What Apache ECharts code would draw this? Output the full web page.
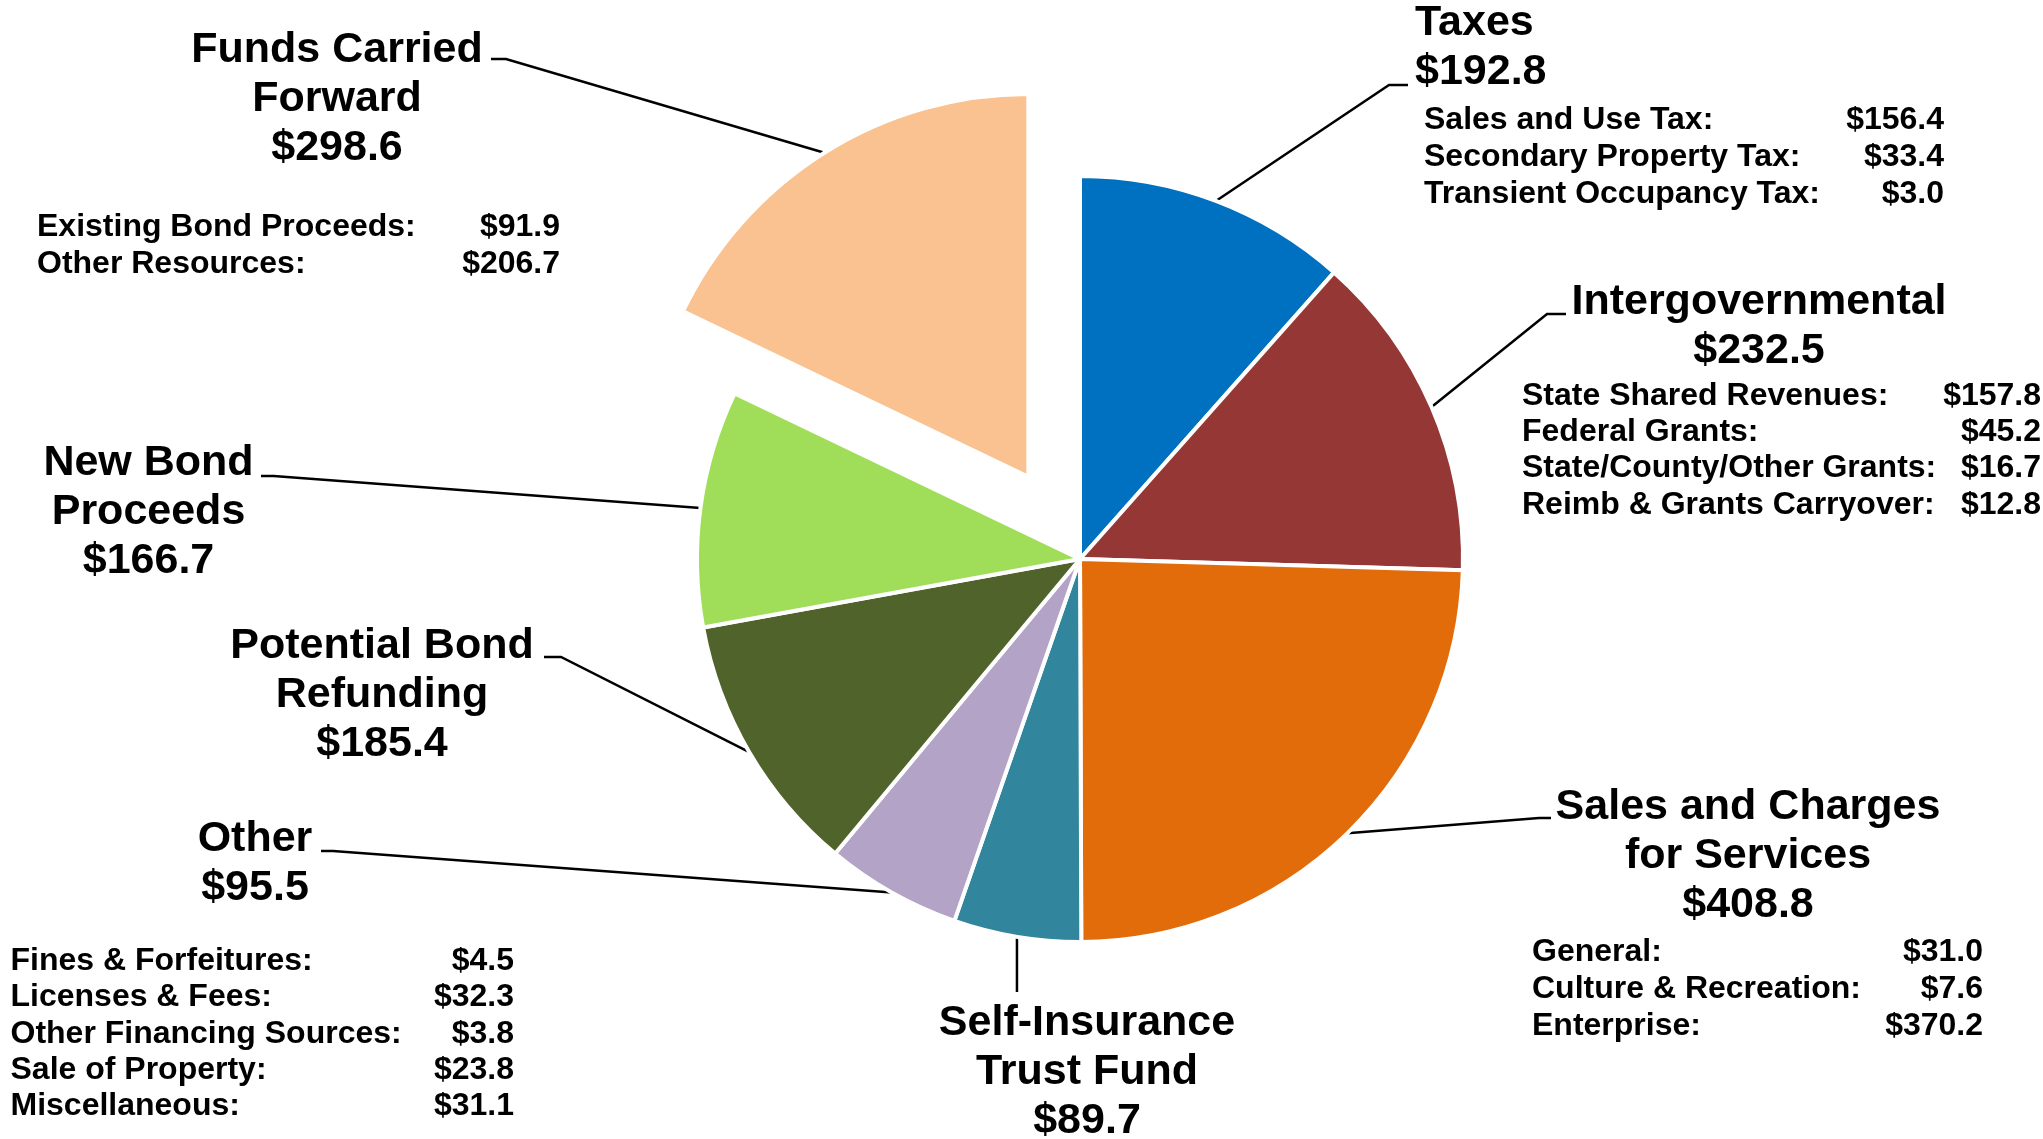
<!DOCTYPE html>
<html>
<head>
<meta charset="utf-8">
<script src="https://cdn.jsdelivr.net/npm/echarts@6.0.0/dist/echarts.min.js"></script>
<style>
html,body{margin:0;padding:0;background:#ffffff;}
#chart{width:2043px;height:1139px;}
</style>
</head>
<body>
<div id="chart"></div>
<script>
// ---------- DATA ----------
const categories = [
  'Taxes',
  'Intergovernmental',
  'Sales and Charges\nfor Services',
  'Self-Insurance\nTrust Fund',
  'Other',
  'Potential Bond\nRefunding',
  'New Bond\nProceeds',
  'Funds Carried\nForward'
];
const values = [192.8, 232.5, 408.8, 89.7, 95.5, 185.4, 166.7, 298.6];
const explodedCategory = 'Funds Carried\nForward';

const taxesItems = ['Sales and Use Tax:', 'Secondary Property Tax:', 'Transient Occupancy Tax:'];
const taxesValues = [156.4, 33.4, 3.0];

const intergovItems = ['State Shared Revenues:', 'Federal Grants:', 'State/County/Other Grants:', 'Reimb & Grants Carryover:'];
const intergovValues = [157.8, 45.2, 16.7, 12.8];

const salesItems = ['General:', 'Culture & Recreation:', 'Enterprise:'];
const salesValues = [31.0, 7.6, 370.2];

const otherItems = ['Fines & Forfeitures:', 'Licenses & Fees:', 'Other Financing Sources:', 'Sale of Property:', 'Miscellaneous:'];
const otherValues = [4.5, 32.3, 3.8, 23.8, 31.1];

const fundsItems = ['Existing Bond Proceeds:', 'Other Resources:'];
const fundsValues = [91.9, 206.7];

// ---------- STYLE / LAYOUT ----------
const colors = ['#0070C0', '#953735', '#E36C0A', '#31859C', '#B3A3C7', '#50632A', '#A0DE5A', '#F9C290'];
const FONT = "'Liberation Sans', Arial, Helvetica, sans-serif";
const PIE_CENTER = [1080, 559];
const PIE_RADIUS = 383;
const EXPLODE_OFFSET = 97;
const BORDER = 4;
const SUB_FONT = 32;
const TRANSPARENT = 'rgba(0,0,0,0)';

// label block anchor (top) + leader line bend/end points (after the slice anchor)
const labelLayouts = [
  { x: 1415,  y: -1.5,  align: 'left',   line: [[1389, 85],  [1408, 85]] },
  { x: 1759,  y: 278,   align: 'center', line: [[1547, 314], [1566, 314]] },
  { x: 1748,  y: 783,   align: 'center', line: [[1539, 818], [1551, 818]] },
  { x: 1087,  y: 999,   align: 'center', line: [[null, 992]] },
  { x: 255,   y: 815,   align: 'center', line: [[333, 851],  [321, 851]] },
  { x: 382,   y: 622,   align: 'center', line: [[561, 657],  [544, 657]] },
  { x: 148.5, y: 439,   align: 'center', line: [[273.6, 476], [261, 476]] },
  { x: 337,   y: 25.5,  align: 'center', line: [[506, 59],   [491, 59]] }
];

const tables = [
  { items: taxesItems,    vals: taxesValues,    left: 1424, right: 1944, top: 101.5, lh: 37 },
  { items: intergovItems, vals: intergovValues, left: 1522, right: 2041, top: 377.5, lh: 36.4 },
  { items: salesItems,    vals: salesValues,    left: 1532, right: 1983, top: 933.5, lh: 37 },
  { items: otherItems,    vals: otherValues,    left: 10.5, right: 514,  top: 943,   lh: 36.3 },
  { items: fundsItems,    vals: fundsValues,    left: 37,   right: 560,  top: 209,   lh: 36.5 }
];

const money = v => '$' + v.toFixed(1);

// main pie: all slices and labels; exploded slice itself hidden here (drawn by the second series)
const mainData = categories.map((c, i) => ({
  name: c,
  value: values[i],
  itemStyle: c === explodedCategory
    ? { color: TRANSPARENT, borderWidth: 0 }
    : { color: colors[i] }
}));

// exploded pie: only the exploded slice visible, pulled out by the library's selectedOffset
const explodedData = categories.map((c, i) => ({
  name: c,
  value: values[i],
  selected: c === explodedCategory,
  itemStyle: c === explodedCategory
    ? { color: colors[i], borderColor: '#ffffff', borderWidth: BORDER }
    : { color: TRANSPARENT, borderWidth: 0 }
}));

const graphics = tables.map(t => {
  const valW = 120;
  const nameW = (t.right - t.left) - valW;
  const text = t.items.map((n, i) => '{n|' + n + '}{v|' + money(t.vals[i]) + '}').join('\n');
  const tok = { fontSize: SUB_FONT, fontWeight: 'bold', fontFamily: FONT, lineHeight: t.lh, fill: '#000' };
  return {
    type: 'text',
    x: t.left,
    y: t.top,
    silent: true,
    style: {
      text: text,
      x: 0, y: 0,
      align: 'left', verticalAlign: 'top',
      fill: '#000',
      font: 'bold ' + SUB_FONT + 'px ' + FONT,
      rich: {
        n: Object.assign({ width: nameW, align: 'left' }, tok),
        v: Object.assign({ width: valW, align: 'right' }, tok)
      }
    }
  };
});

const chart = echarts.init(document.getElementById('chart'), null, { renderer: 'canvas' });
chart.setOption({
  animation: false,
  backgroundColor: '#ffffff',
  series: [{
    type: 'pie',
    center: PIE_CENTER,
    radius: PIE_RADIUS,
    startAngle: 90,
    clockwise: true,
    selectedMode: false,
    avoidLabelOverlap: false,
    silent: true,
    itemStyle: { borderColor: '#ffffff', borderWidth: BORDER },
    emphasis: { disabled: true },
    label: {
      show: true,
      position: 'outside',
      formatter: p => p.name + '\n' + money(p.value),
      color: '#000',
      fontFamily: FONT,
      fontWeight: 'bold',
      fontSize: 43,
      lineHeight: 49
    },
    labelLine: {
      show: true,
      length: 20,
      length2: 20,
      lineStyle: { color: '#000', width: 2.5 }
    },
    labelLayout: function (params) {
      const i = params.dataIndex;
      const cfg = labelLayouts[i];
      const res = { x: cfg.x, y: cfg.y, align: cfg.align, verticalAlign: 'top' };
      const pts = params.labelLinePoints;
      if (pts && pts.length > 1) {
        let a = pts[0];
        if (categories[i] === explodedCategory) {
          // move anchor outward along the slice's own radial direction (same as selectedOffset)
          const vx = pts[1][0] - pts[0][0], vy = pts[1][1] - pts[0][1];
          const L = Math.hypot(vx, vy) || 1;
          a = [a[0] + vx / L * EXPLODE_OFFSET, a[1] + vy / L * EXPLODE_OFFSET];
        }
        res.labelLinePoints = [a].concat(cfg.line.map(p => [p[0] == null ? a[0] : p[0], p[1]]));
      }
      return res;
    },
    data: mainData
  }, {
    type: 'pie',
    center: PIE_CENTER,
    radius: PIE_RADIUS,
    startAngle: 90,
    clockwise: true,
    selectedMode: 'single',
    selectedOffset: EXPLODE_OFFSET,
    silent: true,
    emphasis: { disabled: true },
    label: { show: false },
    labelLine: { show: false },
    data: explodedData
  }],
  graphic: graphics
});
</script>
</body>
</html>
